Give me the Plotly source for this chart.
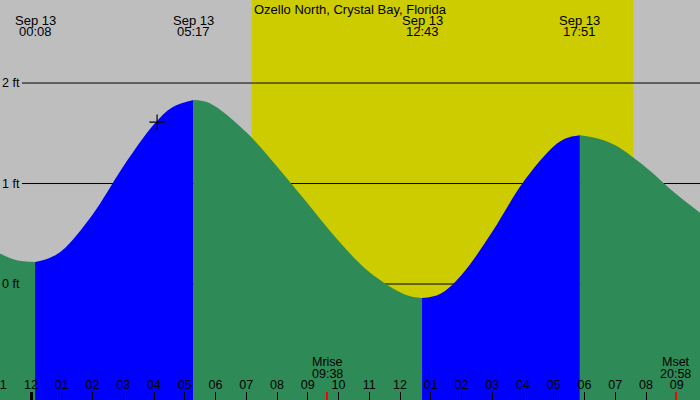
import plotly.graph_objects as go

# tide curve (hours after midnight, feet)
curve_hours = [-1.05, -0.5, 0.133, 0.6, 1, 2, 3, 4, 4.6, 5.283, 5.8, 7, 8, 9, 10, 11, 12.2,
               12.717, 13.3, 14, 15, 16, 17, 17.4, 17.85, 18.4, 19, 20, 21, 21.8]
curve_ft = [0.31, 0.24, 0.22, 0.26, 0.33, 0.69, 1.17, 1.59, 1.76, 1.83, 1.80, 1.51, 1.17,
            0.80, 0.43, 0.12, -0.11, -0.14, -0.10, 0.09, 0.52, 1.01, 1.37, 1.45, 1.48, 1.45,
            1.38, 1.16, 0.89, 0.70]

# high / low tide events
event_times = ["00:08", "05:17", "12:43", "17:51"]
event_date = "Sep 13"

# sun and moon
sunrise = "07:11"
sunset = "19:35"
moon_labels = ["Mrise", "Mset"]
moon_times = ["09:38", "20:58"]

# current time marker
now_time = "04:06"
now_ft = 1.61

ft_ticks = [0, 1, 2]
hour_ticks = list(range(-1, 22))
hour_labels = ["11", "12", "01", "02", "03", "04", "05", "06", "07", "08", "09", "10", "11",
               "12", "01", "02", "03", "04", "05", "06", "07", "08", "09"]

title = "Ozello North, Crystal Bay, Florida"

X_RANGE = [-1.008, 21.756]
Y_RANGE = [-1.154, 2.826]
BG = "#bebebe"
DAY = "#cccc00"
RISE = "#0000ff"
FALL = "#2e8b57"
FONT = "Liberation Sans, Arial, sans-serif"


def hrs(s):
    h, m = s.split(":")
    return int(h) + int(m) / 60.0


events = [hrs(t) for t in event_times]

fig = go.Figure()

# split the curve at each high/low so rising and falling parts get their own colour
cuts = [curve_hours[0]] + events + [curve_hours[-1]]
for n in range(len(cuts) - 1):
    a, b = cuts[n], cuts[n + 1]
    idx = [i for i, h in enumerate(curve_hours) if a - 0.01 <= h <= b + 0.01]
    xs = [curve_hours[i] for i in idx]
    ys = [curve_ft[i] for i in idx]
    col = RISE if ys[-1] > ys[0] else FALL
    fig.add_trace(go.Scatter(x=xs, y=[Y_RANGE[0]] * len(xs), mode="lines",
                             line=dict(width=0), hoverinfo="skip", showlegend=False))
    fig.add_trace(go.Scatter(x=xs, y=ys, mode="lines", line=dict(width=0, shape="spline", color=col),
                             fill="tonexty", fillcolor=col, hoverinfo="skip", showlegend=False))

fig.add_trace(go.Scatter(x=[hrs(now_time)], y=[now_ft], mode="markers",
                         marker=dict(symbol="cross-thin", size=11, line=dict(color="black", width=1.2)),
                         showlegend=False, hoverinfo="skip"))

# empty traces so the extra tick axes get drawn
fig.add_trace(go.Scatter(x=[0], y=[Y_RANGE[0] - 1], xaxis="x2", mode="markers",
                         marker=dict(opacity=0), showlegend=False, hoverinfo="skip"))
fig.add_trace(go.Scatter(x=[hrs(t) for t in moon_times], y=[Y_RANGE[0] - 1] * 2, xaxis="x3",
                         mode="markers", marker=dict(opacity=0), showlegend=False, hoverinfo="skip"))

shapes = [dict(type="rect", xref="x", yref="paper", x0=hrs(sunrise), x1=hrs(sunset), y0=0, y1=1,
               fillcolor=DAY, line=dict(width=0), layer="below")]
for v in ft_ticks:
    shapes.append(dict(type="line", xref="paper", yref="y", x0=22 / 700, x1=1, y0=v, y1=v,
                       line=dict(color="black", width=1), layer="below"))

annotations = [dict(text=title, xref="paper", yref="paper", x=0.5, y=1, yanchor="top",
                    showarrow=False, font=dict(size=13))]
for t in event_times:
    annotations.append(dict(text=event_date, x=hrs(t), xref="x", yref="paper", y=1 - 20 / 400,
                            yanchor="middle", showarrow=False, borderpad=0, font=dict(size=13)))
    annotations.append(dict(text=t, x=hrs(t), xref="x", yref="paper", y=1 - 32 / 400,
                            yanchor="middle", showarrow=False, borderpad=0, font=dict(size=13)))
for lab, t in zip(moon_labels, moon_times):
    annotations.append(dict(text=lab, x=hrs(t), xref="x", yref="paper", y=(400 - 361.5) / 400,
                            yanchor="middle", showarrow=False, borderpad=0, font=dict(size=12.5)))
    annotations.append(dict(text=t, x=hrs(t), xref="x", yref="paper", y=(400 - 373.5) / 400,
                            yanchor="middle", showarrow=False, borderpad=0, font=dict(size=12.5)))
for v in ft_ticks:
    annotations.append(dict(text=f"{v} ft", xref="paper", yref="y", x=0, y=v, xanchor="left",
                            yanchor="middle", showarrow=False, font=dict(size=12.5)))

fig.update_layout(
    width=700, height=400, margin=dict(l=0, r=0, t=0, b=0, autoexpand=False),
    paper_bgcolor=BG, plot_bgcolor=BG,
    font=dict(family=FONT, color="black"),
    shapes=shapes, annotations=annotations,
    xaxis=dict(range=X_RANGE, showgrid=False, zeroline=False, fixedrange=True,
               tickvals=hour_ticks, ticktext=hour_labels, ticks="inside", ticklen=8,
               tickwidth=1, tickcolor="black", ticklabelposition="inside",
               ticklabeloverflow="allow", tickfont=dict(size=12.5, color="black")),
    xaxis2=dict(range=X_RANGE, overlaying="x", anchor="y", side="bottom", showgrid=False,
                zeroline=False, tickvals=[0], ticks="inside", ticklen=8, tickwidth=3,
                tickcolor="black", showticklabels=False, fixedrange=True),
    xaxis3=dict(range=X_RANGE, overlaying="x", anchor="y", side="bottom", showgrid=False,
                zeroline=False, tickvals=[hrs(t) for t in moon_times], ticks="inside", ticklen=8,
                tickwidth=1.5, tickcolor="red", showticklabels=False, fixedrange=True),
    yaxis=dict(range=Y_RANGE, visible=False, fixedrange=True),
)

# the page's default body margin would push the chart 8px off the corner
fig.write_html("out.html", config={"displayModeBar": False},
               post_script="document.body.style.margin='0px';")
